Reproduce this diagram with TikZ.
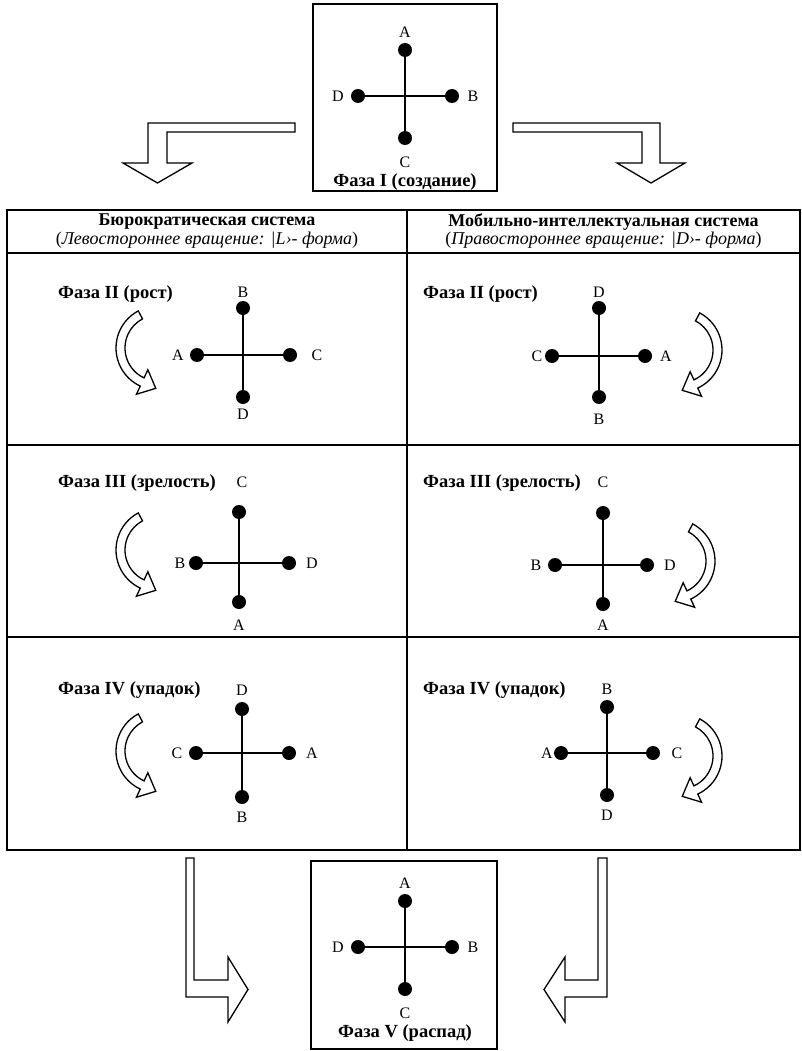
\documentclass[tikz,border=0pt]{standalone}
\usepackage{fontspec}
\setmainfont{Liberation Serif}
\usetikzlibrary{calc}
\newcommand{\rotarrow}[3]{%
\begin{scope}[shift={(#1,#2)}, yscale=-1, xscale=#3]
\draw[blockarrow] (118:42) arc[start angle=118,end angle=245,radius=42] -- (245:51) -- ($(245:37.5)+(335:15)$) -- (245:24) -- (245:33) arc[start angle=245,end angle=118,radius=33] -- cycle;
\end{scope}}
% name, cx, cy, top y, bottom y, left x, right x
\newcommand{\crossat}[7]{%
\node[dot] (#1t) at (#2,#4) {};
\node[dot] (#1b) at (#2,#5) {};
\node[dot] (#1l) at (#6,#3) {};
\node[dot] (#1r) at (#7,#3) {};
\draw[arm] (#1t.center) -- (#1b.center);
\draw[arm] (#1l.center) -- (#1r.center);
}
\begin{document}
\begin{tikzpicture}[x=1pt,y=-1pt,
  lab/.style={font=\fontsize{16}{18}\selectfont, inner sep=0pt},
  phase/.style={font=\bfseries\fontsize{18.5}{21}\selectfont, inner sep=0pt, anchor=west},
  hdr/.style={font=\bfseries\fontsize{18}{21}\selectfont, inner sep=0pt},
  sub/.style={font=\fontsize{18}{21}\selectfont, inner sep=0pt},
  dot/.style={circle, fill=black, inner sep=0pt, minimum size=14pt},
  arm/.style={line width=2.3pt},
  frame/.style={line width=1.8pt},
  blockarrow/.style={line width=1.3pt, fill=white, line join=miter}]
\useasboundingbox (0,0) rectangle (802,1051);

% top box
\draw[frame] (313,4) rectangle (497,191);
\crossat{p1}{405}{96}{50}{138}{358}{452}
\node[lab] (p1A) at (405,32) {A};
\node[lab] (p1D) at (338,96) {D};
\node[lab] (p1B) at (473,96) {B};
\node[lab] (p1C) at (405,162) {C};
\node[phase, anchor=center] (p1n) at (405,182) {Фаза I (создание)};

% top block arrows
\draw[blockarrow] (295,123) -- (148,123) -- (148,163) -- (123,163) -- (157.5,183) -- (192,163) -- (167,163) -- (167,132) -- (295,132) -- cycle;
\draw[blockarrow] (513,123) -- (660,123) -- (660,163) -- (685,163) -- (651,183) -- (617,163) -- (642,163) -- (642,132) -- (513,132) -- cycle;

% table
\draw[frame] (7,210) rectangle (800,850);
\draw[frame] (407,210) -- (407,850);
\draw[frame] (7,253) -- (800,253);
\draw[frame] (7,445) -- (800,445);
\draw[frame] (7,637) -- (800,637);

\node[hdr] (h1) at (207,222) {Бюрократическая система};
\node[sub] (s1) at (207,240) {(\textit{Левостороннее вращение: |L›- форма})};
\node[hdr] (h2) at (603.5,222) {Мобильно-интеллектуальная система};
\node[sub] (s2) at (603.5,240) {(\textit{Правостороннее вращение: |D›- форма})};

% row 1
\node[phase] (r1ln) at (58,294) {Фаза II (рост)};
\node[phase] (r1rn) at (423,294) {Фаза II (рост)};
\crossat{a1}{243}{355}{308}{397}{197}{290}
\node[lab] (a1B) at (243,292) {B};
\node[lab] (a1A) at (178,355) {A};
\node[lab] (a1C) at (317,355) {C};
\node[lab] (a1D) at (243,414) {D};
\crossat{b1}{599}{356}{308}{397}{552}{645}
\node[lab] (b1D) at (599,292) {D};
\node[lab] (b1C) at (537,356) {C};
\node[lab] (b1A) at (666,356) {A};
\node[lab] (b1B) at (599,419) {B};
\rotarrow{158}{348}{1}
\rotarrow{680}{350}{-1}

% row 2
\node[phase] (r2ln) at (58,483) {Фаза III (зрелость)};
\node[phase] (r2rn) at (423,483) {Фаза III (зрелость)};
\crossat{a2}{239}{563}{512}{602}{196}{289}
\node[lab] (a2C) at (242,482) {C};
\node[lab] (a2B) at (180,563) {B};
\node[lab] (a2D) at (312,563) {D};
\node[lab] (a2A) at (239,625) {A};
\crossat{b2}{603}{565}{513}{604}{555}{647}
\node[lab] (b2C) at (603,482) {C};
\node[lab] (b2B) at (536,565) {B};
\node[lab] (b2D) at (670,565) {D};
\node[lab] (b2A) at (603,625) {A};
\rotarrow{158}{550}{1}
\rotarrow{673}{561}{-1}

% row 3
\node[phase] (r3ln) at (58,690) {Фаза IV (упадок)};
\node[phase] (r3rn) at (423,690) {Фаза IV (упадок)};
\crossat{a3}{242}{753}{709}{797}{196}{289}
\node[lab] (a3D) at (242,690) {D};
\node[lab] (a3C) at (177,753) {C};
\node[lab] (a3A) at (312,753) {A};
\node[lab] (a3B) at (242,817) {B};
\crossat{b3}{607}{753}{707}{795}{561}{653}
\node[lab] (b3B) at (607,689) {B};
\node[lab] (b3A) at (547,753) {A};
\node[lab] (b3C) at (677,753) {C};
\node[lab] (b3D) at (607,815) {D};
\rotarrow{158}{751}{1}
\rotarrow{680}{756}{-1}

% bottom block arrows
\draw[blockarrow] (186,858) -- (194,858) -- (194,980) -- (228,980) -- (228,957) -- (248,989.5) -- (228,1022) -- (228,997) -- (186,997) -- cycle;
\draw[blockarrow] (607,858) -- (598,858) -- (598,980) -- (565,980) -- (565,957) -- (544,989.5) -- (565,1022) -- (565,997) -- (607,997) -- cycle;

% bottom box
\draw[frame] (311,861) rectangle (497,1049);
\crossat{p5}{405}{947}{901}{989}{358}{452}
\node[lab] (p5A) at (405,883) {A};
\node[lab] (p5D) at (338,947) {D};
\node[lab] (p5B) at (473,947) {B};
\node[lab] (p5C) at (405,1013) {C};
\node[phase, anchor=center] (p5n) at (405,1033) {Фаза V (распад)};
\end{tikzpicture}
\end{document}
